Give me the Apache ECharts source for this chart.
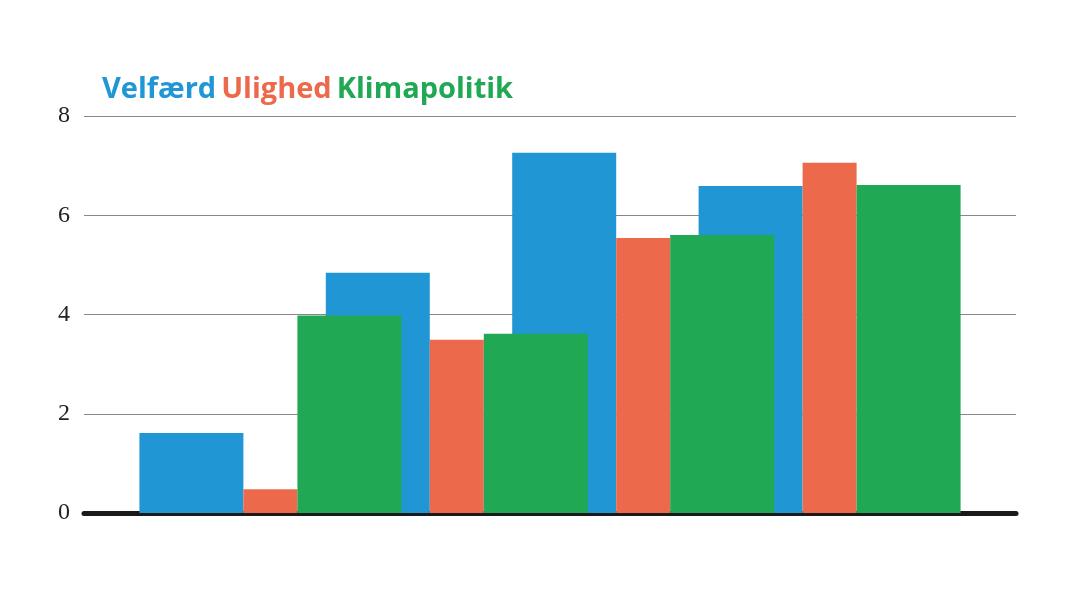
<!DOCTYPE html>
<html><head><meta charset="utf-8">
<script src="https://cdn.jsdelivr.net/npm/echarts@6/dist/echarts.min.js"></script>
<style>html,body{margin:0;background:#fff}#c{width:1070px;height:600px}</style>
</head><body><div id="c"></div>
<script>
const categories = ['', 'A', 'B', 'C', 'D', ''];
const velfaerd = [null, 1.61, 4.84, 7.26, 6.59, null];
const ulighed = [null, 0.48, 3.49, 5.54, 7.06, null];
const klima = [null, 3.98, 3.61, 5.6, 6.61, null];
const yTicks = [0, 2, 4, 6, 8];
const names = ['Velfærd', 'Ulighed', 'Klimapolitik'];
const colors = ['#2196d4', '#ec6a4b', '#21a854'];

const chart = echarts.init(document.getElementById('c'));
chart.setOption({
  animation: false,
  title: {
    left: 97, top: 70,
    text: '{a|' + names[0] + '} {b|' + names[1] + '} {c|' + names[2] + '}',
    textStyle: { rich: {
      a: { color: colors[0], fontSize: 29, fontWeight: 'bold', fontFamily: 'Open Sans' },
      b: { color: colors[1], fontSize: 29, fontWeight: 'bold', fontFamily: 'Open Sans' },
      c: { color: colors[2], fontSize: 29, fontWeight: 'bold', fontFamily: 'Open Sans' }
    } }
  },
  grid: { left: 84, right: 54, top: 116, bottom: 87 },
  xAxis: {
    type: 'category', data: categories, boundaryGap: false,
    axisLine: { lineStyle: { color: '#1a1a1a', width: 5 } },
    axisTick: { show: false }, axisLabel: { show: false }
  },
  yAxis: {
    type: 'value', min: yTicks[0], max: yTicks[yTicks.length - 1], interval: 2,
    axisLine: { show: false }, axisTick: { show: false },
    splitLine: { lineStyle: { color: '#888', width: 1 } },
    axisLabel: { color: '#222', fontSize: 24, fontFamily: 'Liberation Serif', margin: 14 }
  },
  series: [
    { name: names[0], type: 'bar', data: velfaerd, barWidth: 104, barGap: '0%', itemStyle: { color: colors[0] } },
    { name: names[1], type: 'bar', data: ulighed, barWidth: 54, barGap: '0%', itemStyle: { color: colors[1] } },
    { name: names[2], type: 'bar', data: klima, barWidth: 104, barGap: '0%', itemStyle: { color: colors[2] } }
  ]
});
</script></body></html>
